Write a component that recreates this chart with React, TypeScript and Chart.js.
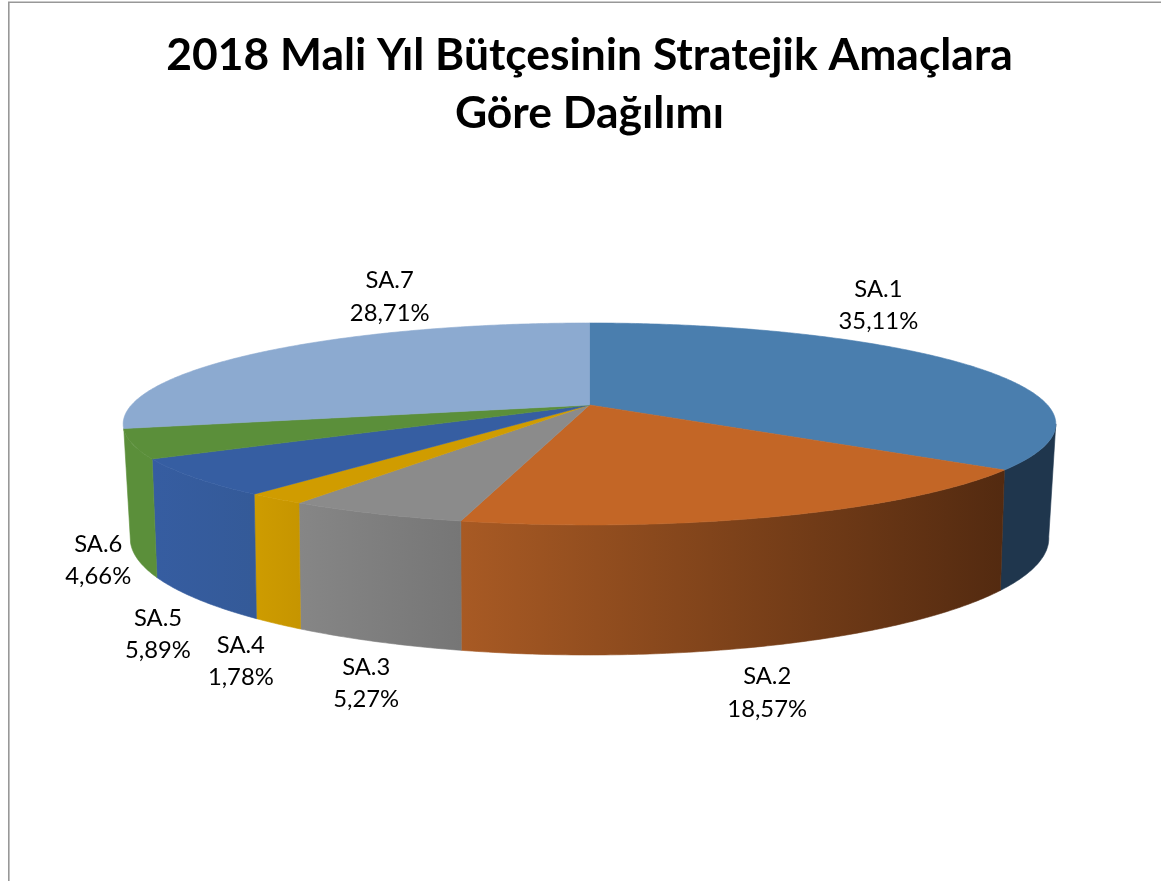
import React, { useEffect, useRef } from "react";
import { Chart, registerables } from "chart.js";

Chart.register(...registerables);

const titleLines = ["2018 Mali Yıl Bütçesinin Stratejik Amaçlara", "Göre Dağılımı"];
const categories = ["SA.1", "SA.2", "SA.3", "SA.4", "SA.5", "SA.6", "SA.7"];
const shares = [35.11, 18.57, 5.27, 1.78, 5.89, 4.66, 28.71];
const topColors = ["#4A7EAE", "#C36626", "#8B8B8B", "#D09C00", "#365EA2", "#5B8F3A", "#8CAAD0"];
const wallNearColors = ["#1F364D", "#A85A24", "#868686", "#CE9C00", "#365DA1", "#5B8F3A", "#6F8FB5"];
const wallFarColors = ["#1F364D", "#532A10", "#767676", "#C69500", "#345A98", "#5B8F3A", "#6F8FB5"];
const labelShiftX = [-88, -14, -9, -35, -36, -34, 122];
const labelShiftY = [-60, 176, 169, 162, 156, 116, -55];

const TOP = { r: 458, k: 0.188, b: 97.4, y0: 0 };
const BOTTOM = { r: 450, k: 0.2, b: 112, y0: 110 };

type Plane = typeof TOP;

const project = (p: Plane, cx: number, cy: number, a: number) => {
  const X = Math.cos(a);
  const Y = Math.sin(a);
  const w = 1 - p.k * Y;
  return { x: cx + (p.r * X) / w, y: cy + p.y0 + (p.b * Y) / w };
};

const pie3d = {
  id: "pie3d",
  beforeDraw(chart: any) {
    const { ctx, width, height } = chart;
    ctx.save();
    ctx.strokeStyle = "#989898";
    ctx.lineWidth = 1.6;
    ctx.beginPath();
    ctx.moveTo(8.8, height);
    ctx.lineTo(8.8, 2.3);
    ctx.lineTo(width, 2.3);
    ctx.stroke();
    ctx.restore();
  },
  beforeDatasetsDraw(chart: any) {
    const { ctx } = chart;
    const arcs = chart.getDatasetMeta(0).data;
    const cx = arcs[0].x;
    const cy = arcs[0].y;
    const a0 = Math.asin(TOP.k);
    const a1 = Math.PI - 0.24;
    const STEP = 0.01;

    ctx.save();
    arcs.forEach((arc: any, i: number) => {
      const s = Math.max(arc.startAngle, a0);
      const e = Math.min(arc.endAngle, a1);
      if (e <= s) return;
      const n = Math.max(2, Math.ceil((e - s) / STEP));
      const up: { x: number; y: number }[] = [];
      const down: { x: number; y: number }[] = [];
      for (let j = 0; j <= n; j++) {
        const a = s + ((e - s) * j) / n;
        up.push(project(TOP, cx, cy, a));
        down.push(project(BOTTOM, cx, cy, a));
      }
      const xs = [...up, ...down].map((p) => p.x);
      const g = ctx.createLinearGradient(Math.min(...xs), 0, Math.max(...xs), 0);
      g.addColorStop(0, wallNearColors[i]);
      g.addColorStop(1, wallFarColors[i]);
      ctx.fillStyle = g;
      ctx.strokeStyle = g;
      ctx.lineWidth = 0.6;
      ctx.beginPath();
      up.forEach((p, j) => (j ? ctx.lineTo(p.x, p.y) : ctx.moveTo(p.x, p.y)));
      down.reverse().forEach((p) => ctx.lineTo(p.x, p.y));
      ctx.closePath();
      ctx.fill();
      ctx.stroke();
    });

    arcs.forEach((arc: any) => {
      const n = Math.max(2, Math.ceil((arc.endAngle - arc.startAngle) / STEP));
      ctx.fillStyle = arc.options.backgroundColor;
      ctx.strokeStyle = arc.options.backgroundColor;
      ctx.lineWidth = 0.6;
      ctx.beginPath();
      ctx.moveTo(cx, cy);
      for (let j = 0; j <= n; j++) {
        const p = project(TOP, cx, cy, arc.startAngle + ((arc.endAngle - arc.startAngle) * j) / n);
        ctx.lineTo(p.x, p.y);
      }
      ctx.closePath();
      ctx.fill();
      ctx.stroke();
    });

    ctx.fillStyle = "#000000";
    ctx.font = '23.8px Lato';
    ctx.textAlign = "center";
    ctx.textBaseline = "middle";
    arcs.forEach((arc: any, i: number) => {
      const p = project(TOP, cx, cy, (arc.startAngle + arc.endAngle) / 2);
      const lx = p.x + labelShiftX[i];
      const ly = p.y + labelShiftY[i];
      ctx.fillText(categories[i], lx, ly - 15.5);
      ctx.fillText(shares[i].toFixed(2).replace(".", ",") + "%", lx, ly + 17);
    });
    ctx.restore();
    return false;
  },
};

export default function App() {
  const ref = useRef<HTMLCanvasElement>(null);

  useEffect(() => {
    document.body.style.margin = "0";
    document.body.style.overflow = "hidden";
    const chart = new Chart(ref.current as HTMLCanvasElement, {
      type: "pie",
      data: {
        labels: categories,
        datasets: [{ data: shares, backgroundColor: topColors, borderWidth: 0 }],
      },
      options: {
        responsive: false,
        animation: false,
        layout: { padding: { left: 18, right: 0, top: 0, bottom: 214 } },
        plugins: {
          legend: { display: false },
          tooltip: { enabled: false },
          title: {
            display: true,
            text: titleLines,
            color: "#000000",
            font: { family: "Lato", size: 44.4, weight: "bold", lineHeight: 1.306 },
            padding: { top: 27, bottom: 0 },
          },
        },
      },
      plugins: [pie3d],
    } as any);
    return () => chart.destroy();
  }, []);

  return <canvas ref={ref} width={1161} height={881} style={{ display: "block" }} />;
}
